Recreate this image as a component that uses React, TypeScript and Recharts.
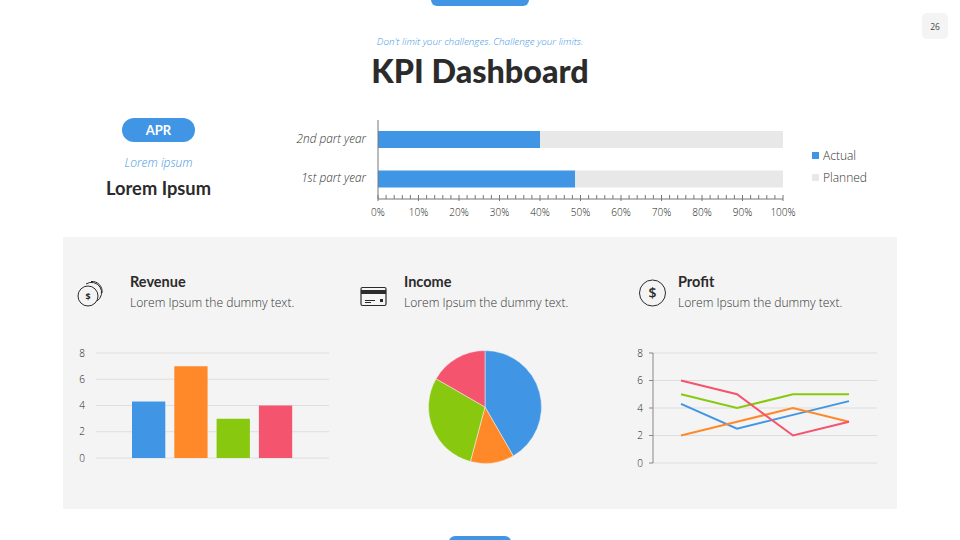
import {
  BarChart,
  Bar,
  LineChart,
  Line,
  PieChart,
  Pie,
  Cell,
  XAxis,
  YAxis,
  CartesianGrid,
} from "recharts";

const blue = "#4096e5";
const orange = "#ff8929";
const green = "#88c90f";
const red = "#f5546e";
const colors = [blue, orange, green, red];

const partLabels = ["2nd part year", "1st part year"];
const actual = [40, 48.7];
const planned = [60, 51.3];
const percentTicks = [
  0, 2, 4, 6, 8, 10, 12, 14, 16, 18, 20, 22, 24, 26, 28, 30, 32, 34, 36, 38, 40, 42, 44, 46, 48, 50,
  52, 54, 56, 58, 60, 62, 64, 66, 68, 70, 72, 74, 76, 78, 80, 82, 84, 86, 88, 90, 92, 94, 96, 98, 100,
];

const revenueValues = [4.3, 7, 3, 4];
const incomeValues = [5, 1.5, 3.5, 2];
const lineLabels = ["A", "B", "C", "D"];
const profitBlue = [4.3, 2.5, 3.5, 4.5];
const profitOrange = [2, 3, 4, 3];
const profitGreen = [5, 4, 5, 5];
const profitRed = [6, 5, 2, 3];
const valueTicks = [0, 2, 4, 6, 8];

const partData = partLabels.map((name, i) => ({ name, actual: actual[i], planned: planned[i] }));
const revenueData = [
  { name: "Revenue", a: revenueValues[0], b: revenueValues[1], c: revenueValues[2], d: revenueValues[3] },
];
const incomeData = incomeValues.map((value, i) => ({ name: "s" + i, value }));
const profitData = lineLabels.map((name, i) => ({
  name,
  a: profitBlue[i],
  b: profitOrange[i],
  c: profitGreen[i],
  d: profitRed[i],
}));

const bodyFont = "'Open Sans', sans-serif";
const headFont = "Lato, sans-serif";
const tickStyle = { fontFamily: bodyFont, fontSize: 10, fontWeight: 300, fill: "#222" };

function PercentTick({ x, y, payload }: any) {
  const major = payload.value % 10 === 0;
  return (
    <g>
      <line x1={x} x2={x} y1={y - 4} y2={y + (major ? 2 : 0)} stroke="#777" />
      {major && (
        <text x={x} y={y + 17} textAnchor="middle" {...tickStyle}>
          {payload.value}%
        </text>
      )}
    </g>
  );
}

function Text({ x, y, align, style, children }: any) {
  // y is the vertical centre of the line
  const shift = align === "center" ? "translate(-50%, -50%)" : "translateY(-50%)";
  return (
    <div style={{ position: "absolute", left: x, top: y, transform: shift, whiteSpace: "nowrap", ...style }}>
      {children}
    </div>
  );
}

function Heading({ x, title }: any) {
  return (
    <>
      <Text x={x} y={281} style={{ fontFamily: headFont, fontWeight: 700, fontSize: 14.5, color: "#2b2b2b" }}>
        {title}
      </Text>
      <Text x={x} y={302} style={{ fontFamily: bodyFont, fontWeight: 300, fontSize: 12.1, color: "#333" }}>
        Lorem Ipsum the dummy text.
      </Text>
    </>
  );
}

function Box({ left, top, width, height, children }: any) {
  return <div style={{ position: "absolute", left, top, width, height }}>{children}</div>;
}

export default function App() {
  return (
    <div style={{ position: "fixed", left: 0, top: 0, width: 960, height: 540, background: "#fff", overflow: "hidden" }}>
      <div style={{ position: "absolute", left: 431, top: -10, width: 98, height: 16, background: blue, borderRadius: 6 }} />
      <div style={{ position: "absolute", left: 449, top: 536, width: 62, height: 16, background: blue, borderRadius: 6 }} />
      <div style={{ position: "absolute", left: 922, top: 13, width: 26, height: 26, background: "#f4f4f4", borderRadius: 5 }} />
      <Text x={935} y={26} align="center" style={{ fontFamily: bodyFont, fontSize: 8.5, color: "#444" }}>26</Text>

      <Text x={480} y={41} align="center" style={{ fontFamily: bodyFont, fontStyle: "italic", fontWeight: 300, fontSize: 9.8, color: blue }}>
        Don't limit your challenges. Challenge your limits.
      </Text>
      <Text x={480} y={70} align="center" style={{ fontFamily: headFont, fontWeight: 900, fontSize: 32.3, color: "#2b2b2b" }}>
        KPI Dashboard
      </Text>

      <div style={{ position: "absolute", left: 122, top: 118, width: 73, height: 24, background: blue, borderRadius: 12 }} />
      <Text x={158.5} y={130} align="center" style={{ fontFamily: headFont, fontWeight: 700, fontSize: 13, color: "#fff" }}>APR</Text>
      <Text x={158.5} y={162} align="center" style={{ fontFamily: bodyFont, fontStyle: "italic", fontWeight: 300, fontSize: 12, color: blue }}>
        Lorem ipsum
      </Text>
      <Text x={158.5} y={188} align="center" style={{ fontFamily: headFont, fontWeight: 700, fontSize: 18.3, color: "#2b2b2b" }}>
        Lorem Ipsum
      </Text>

      <Box left={280} top={110} width={520} height={120}>
        <BarChart
          width={520}
          height={120}
          data={partData}
          layout="vertical"
          margin={{ top: 10, right: 17, bottom: 0, left: 0 }}
        >
          <XAxis
            type="number"
            domain={[0, 100]}
            ticks={percentTicks}
            interval={0}
            height={31}
            tickLine={false}
            tickSize={0}
            tickMargin={0}
            axisLine={{ stroke: "#777" }}
            tick={<PercentTick />}
          />
          <YAxis
            type="category"
            dataKey="name"
            width={98}
            tickLine={false}
            tickSize={0}
            tickMargin={12}
            axisLine={{ stroke: "#777" }}
            tick={{ ...tickStyle, fontSize: 11.8, fontStyle: "italic", fill: "#333", dy: -1 }}
          />
          <Bar dataKey="actual" stackId="p" fill={blue} barSize={17} isAnimationActive={false} />
          <Bar dataKey="planned" stackId="p" fill="#e8e8e8" barSize={17} isAnimationActive={false} />
        </BarChart>
      </Box>
      <div style={{ position: "absolute", left: 812, top: 152, width: 7, height: 7, background: blue }} />
      <div style={{ position: "absolute", left: 812, top: 174, width: 7, height: 7, background: "#e8e8e8" }} />
      <Text x={823} y={155} style={{ fontFamily: bodyFont, fontWeight: 300, fontSize: 12, color: "#333" }}>Actual</Text>
      <Text x={823} y={177} style={{ fontFamily: bodyFont, fontWeight: 300, fontSize: 12, color: "#333" }}>Planned</Text>

      <div style={{ position: "absolute", left: 63, top: 237, width: 834, height: 272, background: "#f4f4f4" }} />

      <svg style={{ position: "absolute", left: 70, top: 272 }} width={40} height={40} fill="none" stroke="#2b2b2b">
        <circle cx={18} cy={24} r={10} />
        <path d="M16 12 A10 10 0 0 1 27 29" />
        <path d="M21 9.5 A10 10 0 0 1 32 21" />
        <text x={18} y={27.5} textAnchor="middle" fontSize={9} fontWeight={700} fill="#2b2b2b" stroke="none" fontFamily={bodyFont}>$</text>
      </svg>
      <Heading x={130} title="Revenue" />

      <svg style={{ position: "absolute", left: 355, top: 280 }} width={38} height={30} fill="none" stroke="#2b2b2b">
        <rect x={6} y={7.5} width={25} height={18} rx={1.5} strokeWidth={1.2} />
        <rect x={6} y={10} width={25} height={4} fill="#2b2b2b" stroke="none" />
        <path d="M10 20.5 H20 M10 22.5 H16" />
        <rect x={25} y={19} width={3} height={3} fill="#2b2b2b" stroke="none" />
      </svg>
      <Heading x={404} title="Income" />

      <svg style={{ position: "absolute", left: 635, top: 275 }} width={36} height={36} fill="none" stroke="#2b2b2b">
        <circle cx={17.5} cy={18} r={13} />
        <text x={17.5} y={23} textAnchor="middle" fontSize={14} fontWeight={600} fill="#2b2b2b" stroke="none" fontFamily={bodyFont}>$</text>
      </svg>
      <Heading x={678} title="Profit" />

      <Box left={60} top={340} width={290} height={130}>
        <BarChart
          width={290}
          height={130}
          data={revenueData}
          margin={{ top: 13, right: 21, bottom: 12, left: 0 }}
          barGap={9}
          barSize={33.3}
        >
          <CartesianGrid vertical={false} stroke="#dedede" />
          <XAxis dataKey="name" hide />
          <YAxis
            domain={[0, 8]}
            ticks={valueTicks}
            width={36}
            axisLine={false}
            tickLine={false}
            tickSize={0}
            tickMargin={11}
            tick={tickStyle}
          />
          <Bar dataKey="a" fill={colors[0]} isAnimationActive={false} />
          <Bar dataKey="b" fill={colors[1]} isAnimationActive={false} />
          <Bar dataKey="c" fill={colors[2]} isAnimationActive={false} />
          <Bar dataKey="d" fill={colors[3]} isAnimationActive={false} />
        </BarChart>
      </Box>

      <Box left={420} top={342} width={130} height={130}>
        <PieChart width={130} height={130} margin={{ top: 0, right: 0, bottom: 0, left: 0 }}>
          <Pie
            data={incomeData}
            dataKey="value"
            cx={65}
            cy={65}
            outerRadius={56.5}
            startAngle={90}
            endAngle={-270}
            stroke="#f4f4f4"
            strokeWidth={0.5}
            isAnimationActive={false}
          >
            {incomeData.map((d, i) => (
              <Cell key={d.name} fill={colors[i]} />
            ))}
          </Pie>
        </PieChart>
      </Box>

      <Box left={620} top={340} width={270} height={130}>
        <LineChart
          width={270}
          height={130}
          data={profitData}
          margin={{ top: 13, right: 13, bottom: 7, left: 0 }}
        >
          <CartesianGrid vertical={false} stroke="#dedede" />
          <XAxis dataKey="name" scale="band" hide />
          <YAxis
            domain={[0, 8]}
            ticks={valueTicks}
            width={33}
            axisLine={{ stroke: "#888" }}
            tickLine={{ stroke: "#888" }}
            tickSize={4}
            tickMargin={6}
            tick={tickStyle}
          />
          <Line dataKey="a" stroke={colors[0]} strokeWidth={2} dot={false} isAnimationActive={false} />
          <Line dataKey="b" stroke={colors[1]} strokeWidth={2} dot={false} isAnimationActive={false} />
          <Line dataKey="c" stroke={colors[2]} strokeWidth={2} dot={false} isAnimationActive={false} />
          <Line dataKey="d" stroke={colors[3]} strokeWidth={2} dot={false} isAnimationActive={false} />
        </LineChart>
      </Box>
    </div>
  );
}
